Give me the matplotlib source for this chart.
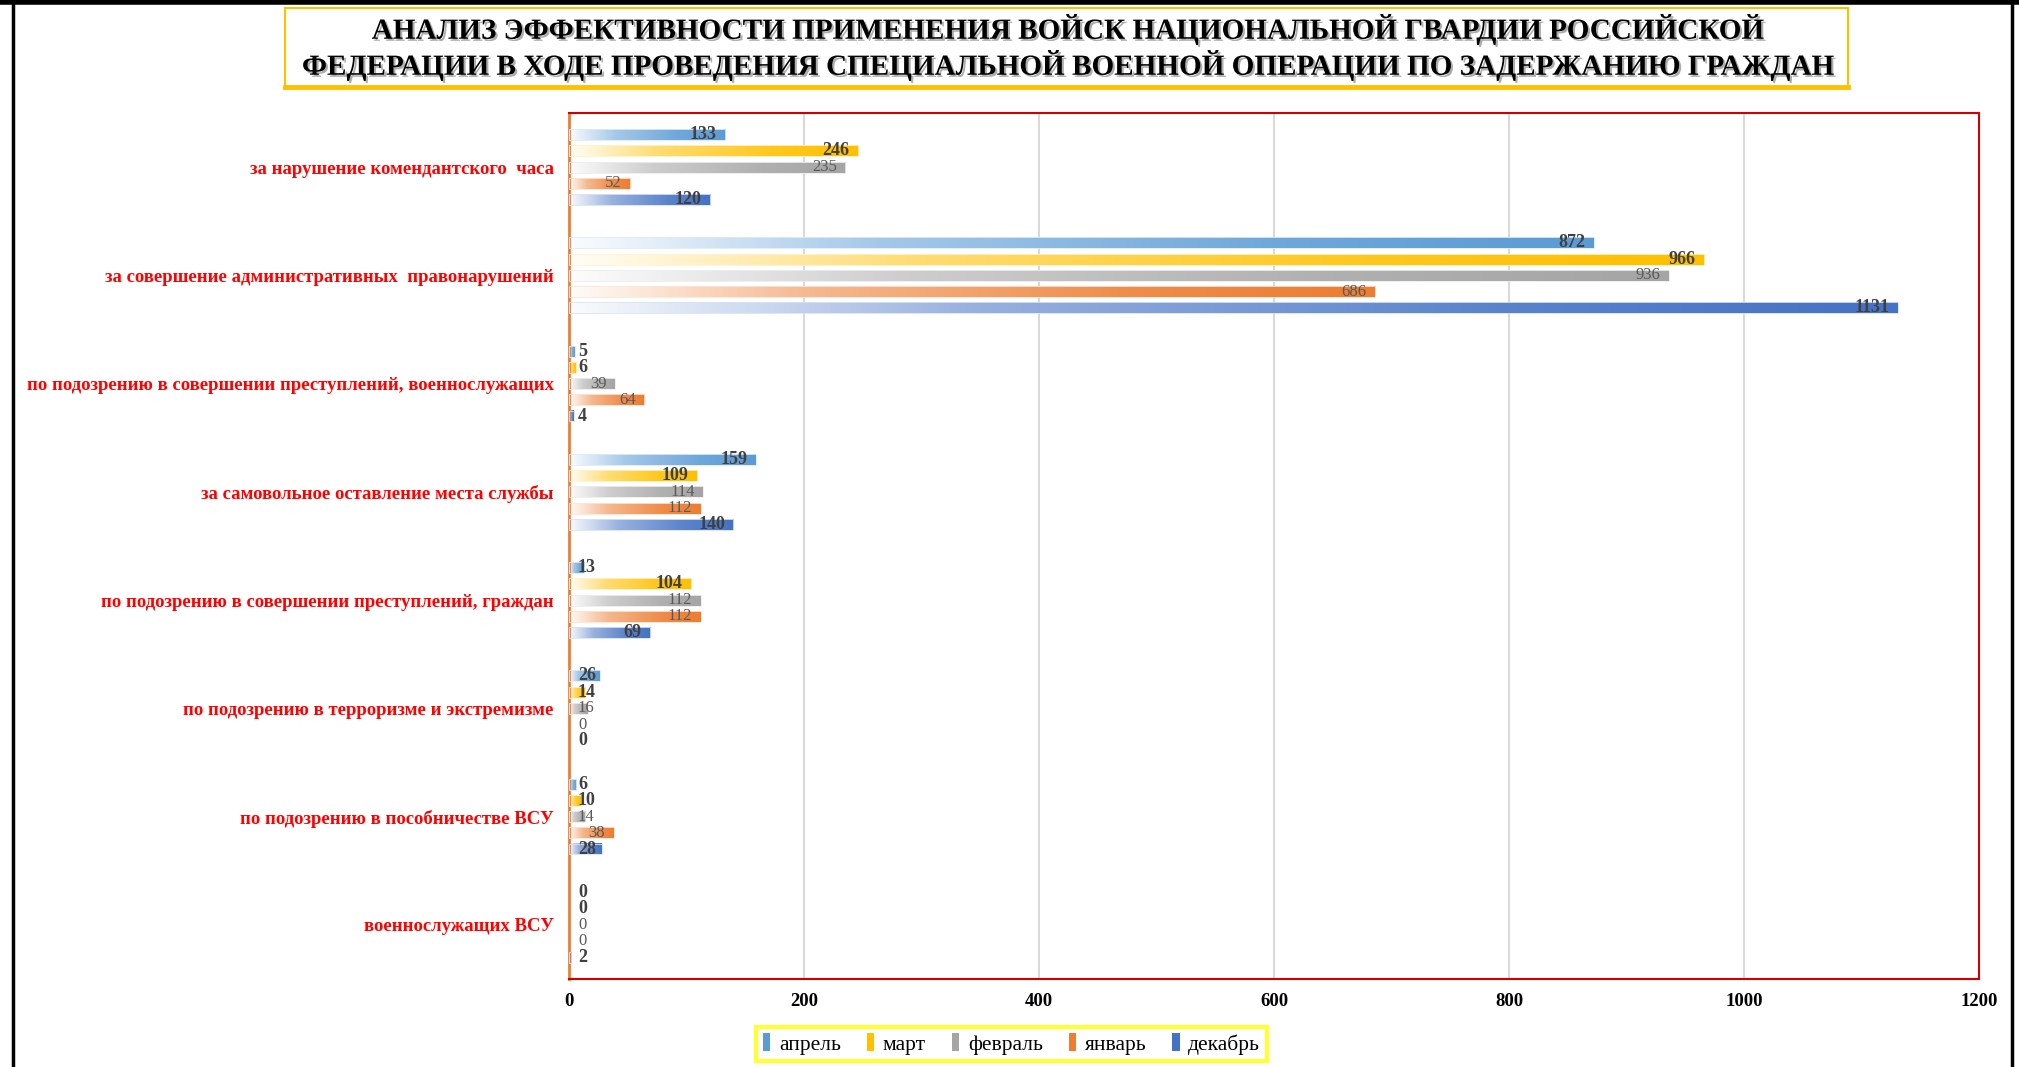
import numpy as np
import matplotlib
matplotlib.use("Agg")
import matplotlib.pyplot as plt
from matplotlib.colors import LinearSegmentedColormap, to_rgb
from matplotlib.patches import Patch, Rectangle
from matplotlib.lines import Line2D
import matplotlib.patheffects as pe

plt.rcParams['font.family'] = ['Liberation Serif', 'DejaVu Serif']

title_lines = [
    "АНАЛИЗ ЭФФЕКТИВНОСТИ ПРИМЕНЕНИЯ ВОЙСК НАЦИОНАЛЬНОЙ ГВАРДИИ РОССИЙСКОЙ",
    "ФЕДЕРАЦИИ В ХОДЕ ПРОВЕДЕНИЯ СПЕЦИАЛЬНОЙ ВОЕННОЙ ОПЕРАЦИИ ПО ЗАДЕРЖАНИЮ ГРАЖДАН",
]

categories = [
    "за нарушение комендантского  часа",
    "за совершение административных  правонарушений",
    "по подозрению в совершении преступлений, военнослужащих",
    "за самовольное оставление места службы",
    "по подозрению в совершении преступлений, граждан",
    "по подозрению в терроризме и экстремизме",
    "по подозрению в пособничестве ВСУ",
    "военнослужащих ВСУ",
]

months = ["апрель", "март", "февраль", "январь", "декабрь"]
aprel = [133, 872, 5, 159, 13, 26, 6, 0]
mart = [246, 966, 6, 109, 104, 14, 10, 0]
fevral = [235, 936, 39, 114, 112, 16, 14, 0]
yanvar = [52, 686, 64, 112, 112, 0, 38, 0]
dekabr = [120, 1131, 4, 140, 69, 0, 28, 2]
series = [aprel, mart, fevral, yanvar, dekabr]

colors = ["#5B9BD5", "#FFC000", "#A5A5A5", "#ED7D31", "#4472C4"]
label_bold = [True, True, False, False, True]

fig = plt.figure(figsize=(20.19, 10.67), dpi=100)
ax = fig.add_axes([0.2818, 0.0825, 0.6984, 0.8116])

step = 0.15
bar_h = 0.1
y_base = np.arange(len(categories))

texts = []
for i, (vals, col) in enumerate(zip(series, colors)):
    rgb = np.array(to_rgb(col))
    white = np.ones(3)
    cmap = LinearSegmentedColormap.from_list(
        "g%d" % i,
        [(0.0, white * 0.97 + rgb * 0.03),
         (0.3, white * 0.45 + rgb * 0.55),
         (0.7, white * 0.12 + rgb * 0.88),
         (1.0, rgb)])
    ys = y_base + (i - 2) * step
    grad = np.linspace(0, 1, 256).reshape(1, -1)
    for v, y in zip(vals, ys):
        if v > 0:
            ax.barh(y, v, height=bar_h, color="none",
                    edgecolor=white * 0.8 + rgb * 0.2, linewidth=0.6, zorder=3)
            ax.imshow(grad, cmap=cmap, aspect="auto", interpolation="bilinear",
                      extent=[0, v, y + bar_h / 2, y - bar_h / 2], zorder=2)
        if label_bold[i]:
            kw = dict(fontsize=13, fontweight="bold", color="#404040")
        else:
            kw = dict(fontsize=12, color="#595959")
        t = ax.annotate(str(v), (v, y), xytext=(-6, 0), textcoords="offset points",
                        ha="right", va="center", zorder=5, **kw)
        texts.append((t, y))

ax.set_xlim(0, 1200)
ax.set_ylim(len(categories) - 0.5, -0.5)
ax.set_xticks(np.arange(0, 1201, 200))
ax.set_xticklabels([str(x) for x in range(0, 1201, 200)],
                   fontsize=13.5, fontweight="bold")
ax.set_yticks(y_base)
ax.set_yticklabels(categories, fontsize=13.5, fontweight="bold", color="#FF0000")
ax.tick_params(axis="both", length=0)
ax.tick_params(axis="y", pad=11)
ax.tick_params(axis="x", pad=10)
ax.grid(axis="x", color="#D9D9D9", linewidth=1.5, zorder=0)
ax.set_axisbelow(True)
for s in ["top", "right", "bottom"]:
    ax.spines[s].set_color("#D00000")
    ax.spines[s].set_linewidth(1.5)
ax.spines["left"].set_color("#ED7D31")
ax.spines["left"].set_linewidth(2)

# labels that would fall left of the axis are pushed right of it
fig.canvas.draw()
r = fig.canvas.get_renderer()
ax_left = ax.get_window_extent(r).x0
for t, y in texts:
    bb = t.get_window_extent(r)
    if bb.x0 < ax_left + 8:
        t.xy = (0, y)
        t.set_position((6.5, 0))
        t.set_ha("left")

# title box
fig.add_artist(Rectangle((285 / 2019, 1 - 87 / 1067), 1563 / 2019, 79 / 1067,
                         transform=fig.transFigure, facecolor="white",
                         edgecolor="#FFC000", linewidth=1.5))
fig.add_artist(Line2D([285 / 2019, 1848 / 2019], [1 - 87 / 1067, 1 - 87 / 1067],
                      transform=fig.transFigure, color="#FFC000", linewidth=3.5))
for k, line in enumerate(title_lines):
    fig.text(0.528, 1 - (29 + 36 * k) / 1067, line, ha="center", va="center",
             fontsize=21, fontweight="bold", color="black",
             path_effects=[pe.withSimplePatchShadow(offset=(1.5, -1.5),
                                                    shadow_rgbFace="#999999", alpha=0.8)])

# legend
handles = [Patch(facecolor=c, edgecolor="none") for c in colors]
leg = fig.legend(handles, months, loc="center", bbox_to_anchor=(0.501, 0.0215),
                 ncol=5, frameon=True, fontsize=15.5, handlelength=0.35,
                 handleheight=0.9, handletextpad=0.4, columnspacing=1.2,
                 borderpad=0.3, fancybox=False)
leg.get_frame().set_edgecolor("#FFFF00")
leg.get_frame().set_linewidth(3)

# outer frame
fig.add_artist(Line2D([13 / 2019, 13 / 2019], [0, 1], transform=fig.transFigure,
                      color="black", linewidth=2.5))
fig.add_artist(Line2D([2012 / 2019, 2012 / 2019], [0, 1], transform=fig.transFigure,
                      color="black", linewidth=2.5))
fig.add_artist(Line2D([0, 1], [1 - 2 / 1067, 1 - 2 / 1067], transform=fig.transFigure,
                      color="black", linewidth=4))

fig.savefig("out.png", dpi=100)
